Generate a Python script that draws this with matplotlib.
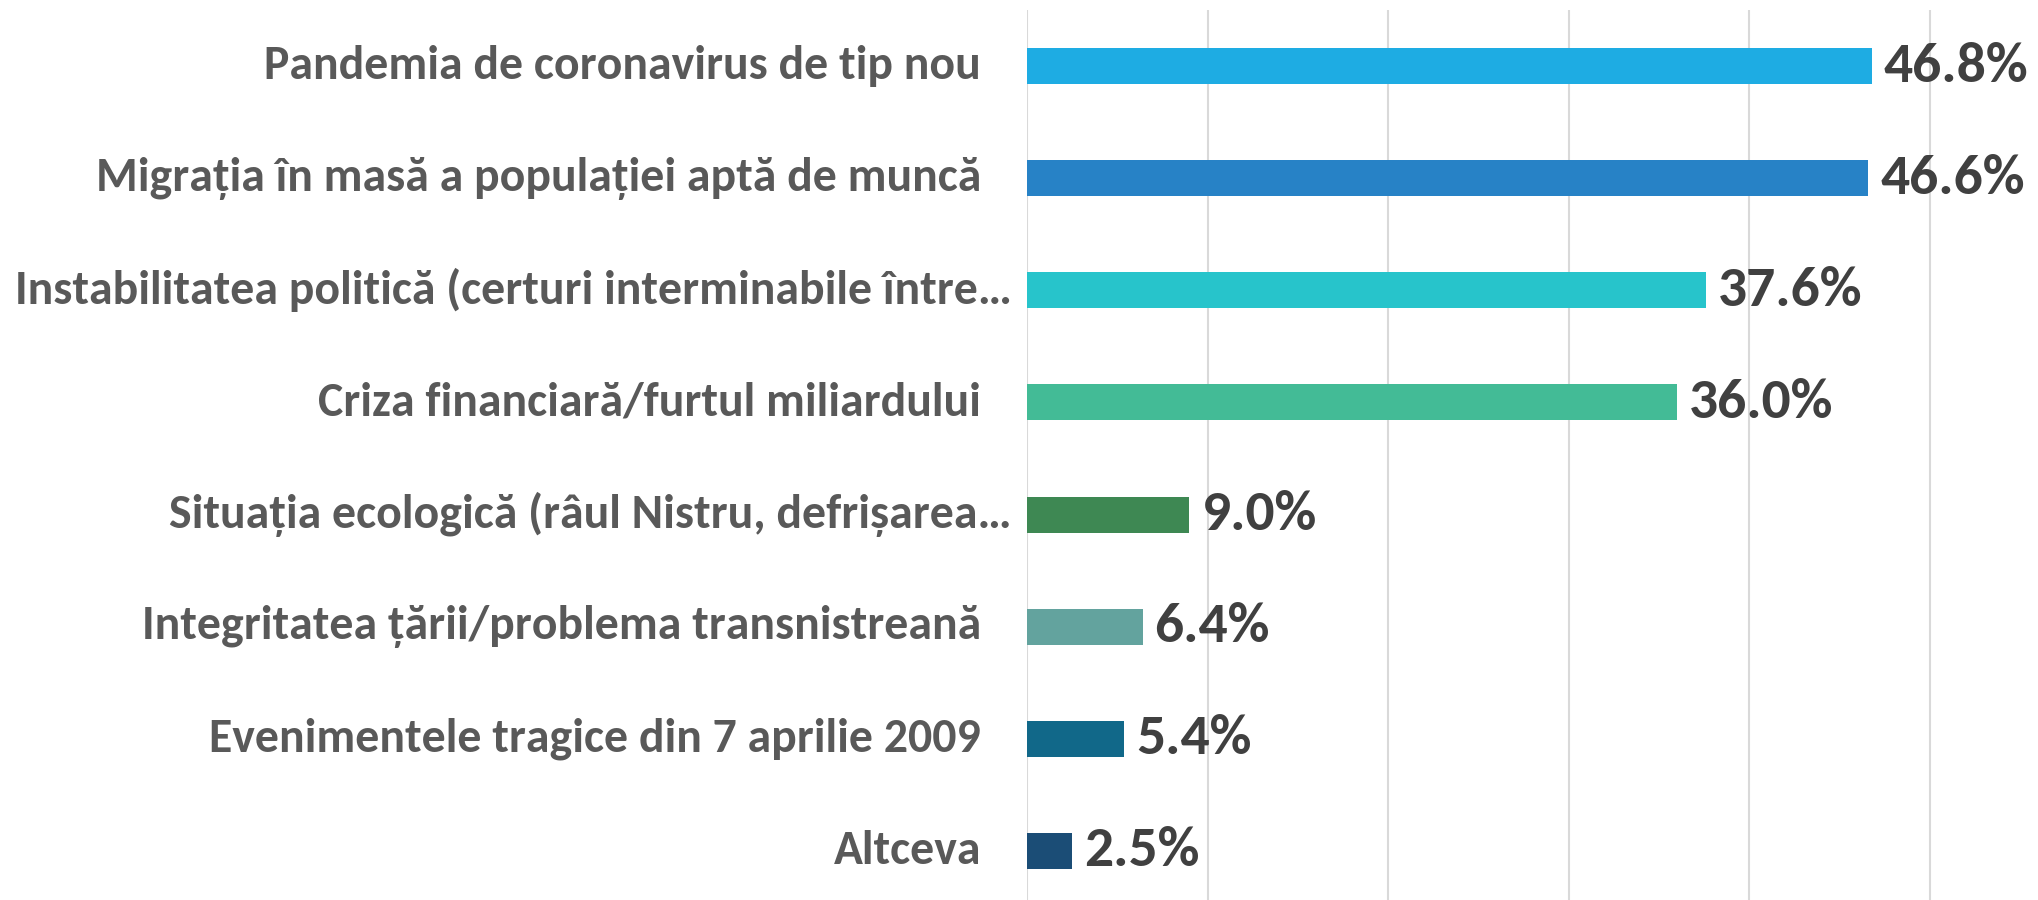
import matplotlib
matplotlib.use("Agg")
import matplotlib.pyplot as plt
from matplotlib import font_manager

# Data
categories = [
    "Pandemia de coronavirus de tip nou",
    "Migrația în masă a populației aptă de muncă",
    "Instabilitatea politică (certuri interminabile între…",
    "Criza financiară/furtul miliardului",
    "Situația ecologică (râul Nistru, defrișarea…",
    "Integritatea țării/problema transnistreană",
    "Evenimentele tragice din 7 aprilie 2009",
    "Altceva",
]
values = [46.8, 46.6, 37.6, 36.0, 9.0, 6.4, 5.4, 2.5]
truncated = [False, False, True, False, True, False, False, False]
colors = ["#1EACE3", "#2782C6", "#27C4CB", "#43BB96",
          "#3E8853", "#63A39E", "#116889", "#1B4D76"]
xticks = [0, 10, 20, 30, 40, 50]

names = {f.name for f in font_manager.fontManager.ttflist}
wanted = ["Carlito", "Roboto Condensed", "Liberation Sans Narrow", "Lato", "DejaVu Sans"]
plt.rcParams['font.family'] = [n for n in wanted if n in names]

W, H, DPI = 2038, 900, 100
fig = plt.figure(figsize=(W / DPI, H / DPI), dpi=DPI)
left_px, top_px, bottom_px = 1027, 10, 907
ax = fig.add_axes([left_px / W, (H - bottom_px) / H, (W - left_px) / W, (bottom_px - top_px) / H])

y = list(range(len(categories)))
ax.barh(y, values, height=0.32, color=colors, zorder=3)
ax.set_ylim(len(categories) - 0.5, -0.5)
ax.set_xlim(0, 56)
ax.set_xticks(xticks)
ax.set_yticks([])
ax.tick_params(axis='x', length=0, labelbottom=False)
ax.grid(axis='x', color="#D9D9D9", linewidth=1.5, zorder=0)
for s in ax.spines.values():
    s.set_visible(False)

axw = W - left_px
cat_texts, val_texts = [], []
for i, (lab, v, tr) in enumerate(zip(categories, values, truncated)):
    gap = 15 if tr else 46
    cat_texts.append(ax.text(-gap / axw, i, lab, transform=ax.get_yaxis_transform(),
                             ha='right', va='center', fontsize=31, fontweight='bold', color="#595959"))
    val_texts.append(ax.annotate(f"{v:.1f}%", (v, i), xytext=(12, 0), textcoords='offset pixels',
                                 ha='left', va='center', fontsize=42, fontweight='bold', color="#404040"))

# scale font sizes so the text widths match the reference
r = fig.canvas.get_renderer()
k = 995 / cat_texts[2].get_window_extent(r).width
for t in cat_texts:
    t.set_fontsize(31 * k)
k = 145 / val_texts[0].get_window_extent(r).width
for t in val_texts:
    t.set_fontsize(42 * k)

fig.savefig("out.png", dpi=DPI)
